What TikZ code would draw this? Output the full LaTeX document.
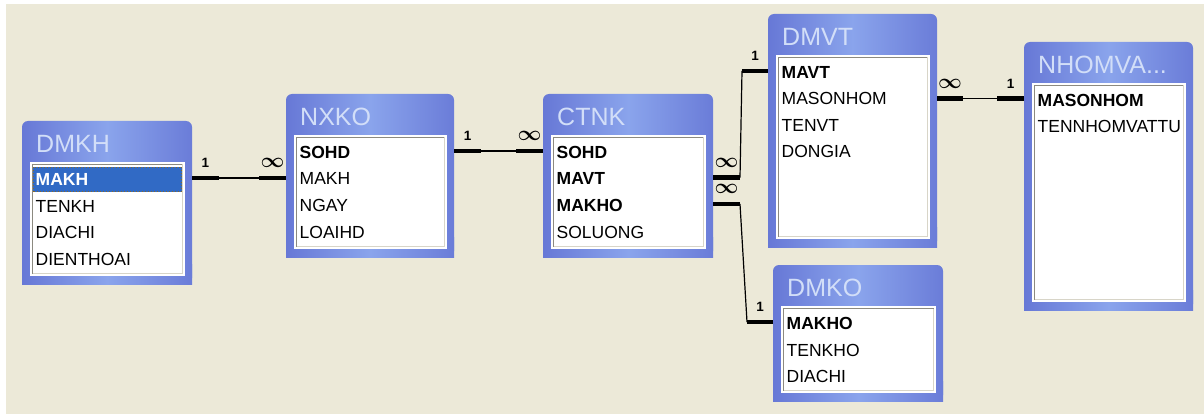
\documentclass[tikz,border=0pt]{standalone}
\usepackage{fontspec}
\setmainfont{Liberation Sans}
\usetikzlibrary{calc}

\definecolor{deskbg}{HTML}{ECE9D8}
\definecolor{frameA}{HTML}{6778D6}
\definecolor{frameB}{HTML}{8AA4EC}
\definecolor{titletxt}{HTML}{D2DEF8}
\definecolor{selblue}{HTML}{316AC5}
\definecolor{focusdot}{HTML}{8A6A2A}
\definecolor{insetdark}{HTML}{8C8A80}
\definecolor{insetlight}{HTML}{D8D5C8}

\tikzset{
  tblbox/.style={inner sep=0pt, outer sep=0pt},
  tblshade/.style={left color=frameA, right color=frameA!90!frameB, middle color=frameB},
  listbox/.style={fill=white, inner sep=0pt, outer sep=0pt},
  tbltitle/.style={inner sep=0pt, anchor=west, text=titletxt, font=\fontsize{25}{28}\selectfont},
  fld/.style={inner xsep=0pt, inner ysep=4pt, anchor=west, text height=13pt, text depth=4pt,
              font=\fontsize{17.5}{20}\selectfont},
  keyfld/.style={fld, font=\fontsize{17.5}{20}\selectfont\bfseries},
  selfld/.style={keyfld, text=white},
  stub/.style={line width=4.5pt},
  joinln/.style={line width=1.2pt},
  onelbl/.style={inner sep=0pt, above=8pt, font=\fontsize{13.5}{13.5}\selectfont\bfseries},
  manylbl/.style={inner sep=0pt, above=8pt, font=\fontsize{21}{21}\selectfont\boldmath},
}

% table window: id, left, top, width, height, caption
\newcommand\dbtable[6]{%
  \node[tblbox, minimum width=#4pt, minimum height=#5pt, anchor=north west] (#1) at (#2,#3) {};
  \shade[tblshade, rounded corners=6pt] (#1.south west) rectangle (#1.north east);
  \shade[tblshade] (#1.south west) rectangle ([yshift=20pt]#1.south east);
  \node[listbox, minimum width={(#4-15)*1pt}, minimum height={(#5-49)*1pt}, anchor=north west]
    (#1-list) at ($(#1.north west)+(8,41)$) {};
  \draw[insetdark, line width=1pt] ([xshift=2.5pt,yshift=2.5pt]#1-list.south west)
    |- ([xshift=-2.5pt,yshift=-2.5pt]#1-list.north east);
  \draw[insetlight, line width=1pt] ([xshift=2.5pt,yshift=2.5pt]#1-list.south west)
    -| ([xshift=-2.5pt,yshift=-2.5pt]#1-list.north east);
  \node[tbltitle] (#1-title) at ($(#1.north west)+(14,23)$) {#6};
}
% field row: style, table id, row number, text
\newcommand\dbfield[4][fld]{%
  \node[#1] (#2-#3) at ($(#2-list.north west)+(5.5,{19+26.5*(#3-1)})$) {#4};
}

\begin{document}
\begin{tikzpicture}[x=1pt, y=-1pt]
\useasboundingbox (0,0) rectangle (1204,414);
\fill[white] (0,0) rectangle (1204,414);
\fill[deskbg] (6,4) rectangle (1204,414);

% ---------- tables ----------
\dbtable{dmkh}{22}{121}{170}{163}{DMKH}
\fill[selblue] ($(dmkh-list.north west)+(3,5)$) rectangle ($(dmkh-list.north east)+(-3,30)$);
\draw[focusdot, dotted, line width=1pt] ($(dmkh-list.north west)+(3.5,5.5)$) rectangle ($(dmkh-list.north east)+(-3.5,29.5)$);
\dbfield[selfld]{dmkh}{1}{MAKH}
\dbfield{dmkh}{2}{TENKH}
\dbfield{dmkh}{3}{DIACHI}
\dbfield{dmkh}{4}{DIENTHOAI}

\dbtable{nxko}{286}{94}{168}{163}{NXKO}
\dbfield[keyfld]{nxko}{1}{SOHD}
\dbfield{nxko}{2}{MAKH}
\dbfield{nxko}{3}{NGAY}
\dbfield{nxko}{4}{LOAIHD}

\dbtable{ctnk}{543}{94}{170}{163}{CTNK}
\dbfield[keyfld]{ctnk}{1}{SOHD}
\dbfield[keyfld]{ctnk}{2}{MAVT}
\dbfield[keyfld]{ctnk}{3}{MAKHO}
\dbfield{ctnk}{4}{SOLUONG}

\dbtable{dmvt}{768}{14}{169}{233}{DMVT}
\dbfield[keyfld]{dmvt}{1}{MAVT}
\dbfield{dmvt}{2}{MASONHOM}
\dbfield{dmvt}{3}{TENVT}
\dbfield{dmvt}{4}{DONGIA}

\dbtable{dmko}{773}{265}{170}{136}{DMKO}
\dbfield[keyfld]{dmko}{1}{MAKHO}
\dbfield{dmko}{2}{TENKHO}
\dbfield{dmko}{3}{DIACHI}

\dbtable{nhom}{1024}{42}{169}{268}{NHOMVA...}
\dbfield[keyfld]{nhom}{1}{MASONHOM}
\dbfield{nhom}{2}{TENNHOMVATTU}

% ---------- relationships ----------
% DMKH.MAKH 1 -- oo NXKO.MAKH
\coordinate (r1a) at ($(dmkh.east |- dmkh-1)+(0,-3)$);
\coordinate (r1b) at (nxko.west |- r1a);
\draw[stub] (r1a) -- node[onelbl]{1} ++(27,0) coordinate (r1s);
\draw[stub] (r1b) -- node[manylbl]{$\infty$} ++(-27,0) coordinate (r1t);
\draw[joinln] (r1s) -- (r1t);

% NXKO.SOHD 1 -- oo CTNK.SOHD
\coordinate (r2a) at ($(nxko.east |- nxko-1)+(0,-3)$);
\coordinate (r2b) at (ctnk.west |- r2a);
\draw[stub] (r2a) -- node[onelbl]{1} ++(27,0) coordinate (r2s);
\draw[stub] (r2b) -- node[manylbl]{$\infty$} ++(-27,0) coordinate (r2t);
\draw[joinln] (r2s) -- (r2t);

% CTNK.MAVT oo -- 1 DMVT.MAVT
\coordinate (r3a) at ($(ctnk.east |- ctnk-2)+(0,-3)$);
\coordinate (r3b) at ($(dmvt.west |- dmvt-1)+(0,-3)$);
\draw[stub] (r3a) -- node[manylbl]{$\infty$} ++(27,0) coordinate (r3s);
\draw[stub] (r3b) -- node[onelbl]{1} ++(-26,0) coordinate (r3t);
\draw[joinln] (r3s) -- (r3t);

% CTNK.MAKHO oo -- 1 DMKO.MAKHO
\coordinate (r4a) at ($(ctnk.east |- ctnk-3)+(0,-3)$);
\coordinate (r4b) at ($(dmko.west |- dmko-1)+(0,-3)$);
\draw[stub] (r4a) -- node[manylbl]{$\infty$} ++(27,0) coordinate (r4s);
\draw[stub] (r4b) -- node[onelbl]{1} ++(-26,0) coordinate (r4t);
\draw[joinln] (r4s) -- (r4t);

% DMVT.MASONHOM oo -- 1 NHOMVATTU.MASONHOM
\coordinate (r5a) at ($(dmvt.east |- dmvt-2)+(0,-2)$);
\coordinate (r5b) at (nhom.west |- r5a);
\draw[stub] (r5a) -- node[manylbl]{$\infty$} ++(26,0) coordinate (r5s);
\draw[stub] (r5b) -- node[onelbl]{1} ++(-27,0) coordinate (r5t);
\draw[joinln] (r5s) -- (r5t);
\end{tikzpicture}
\end{document}
